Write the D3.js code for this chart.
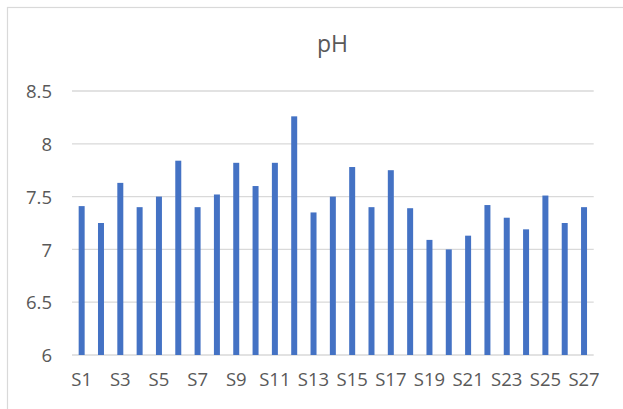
<!DOCTYPE html>
<html>
<head>
<meta charset="utf-8">
<script src="https://cdn.jsdelivr.net/npm/d3@7"></script>
<style>
  html, body { margin: 0; padding: 0; background: #fff; }
  svg { display: block; }
</style>
</head>
<body>
<div id="chart"></div>
<script>
// data
var categories = ["S1","S2","S3","S4","S5","S6","S7","S8","S9","S10","S11","S12","S13","S14",
    "S15","S16","S17","S18","S19","S20","S21","S22","S23","S24","S25","S26","S27"];
var phValues = [7.41, 7.25, 7.63, 7.40, 7.50, 7.84, 7.40, 7.52, 7.82, 7.60, 7.82, 8.26, 7.35, 7.50,
    7.78, 7.40, 7.75, 7.39, 7.09, 7.00, 7.13, 7.42, 7.30, 7.19, 7.51, 7.25, 7.40];
var yTicks = [6, 6.5, 7, 7.5, 8, 8.5];
var chartTitle = "pH";

var width = 623, height = 409;
var margin = {top: 91, right: 30, bottom: 54, left: 72};

var svg = d3.select("#chart")
    .append("svg")
    .attr("width", width)
    .attr("height", height);

// chart area border (only left/top visible in the crop)
svg.append("rect")
    .attr("x", 7.5)
    .attr("y", 7.5)
    .attr("width", width + 20)
    .attr("height", height + 20)
    .style("fill", "none")
    .style("stroke", "#d9d9d9")
    .style("stroke-width", 1.2);

var x = d3.scaleBand()
    .domain(categories)
    .range([margin.left, width - margin.right + 0.7])
    .paddingInner(0.69)
    .paddingOuter(0.345);

var y = d3.scaleLinear()
    .domain([6, 8.5])
    .range([height - margin.bottom, margin.top]);

// gridlines
svg.append("g")
    .selectAll("line")
    .data(yTicks)
    .enter()
    .append("line")
    .attr("x1", margin.left)
    .attr("x2", width - margin.right + 0.7)
    .attr("y1", function (d) { return y(d); })
    .attr("y2", function (d) { return y(d); })
    .style("stroke", "#d9d9d9")
    .style("stroke-width", 1.3);

// y labels
var yAxis = d3.axisLeft(y)
    .tickValues(yTicks)
    .tickSize(0)
    .tickPadding(20)
    .tickFormat(function (d) { return d3.format("")(d); });

var gy = svg.append("g")
    .attr("transform", "translate(" + margin.left + ",0)")
    .call(yAxis);
gy.select(".domain").remove();
gy.selectAll("text")
    .attr("dy", "0.36em")
    .attr("font-family", "'Open Sans', sans-serif")
    .attr("font-size", 18.5)
    .attr("fill", "#595959");

// bars
svg.append("g")
    .selectAll("rect")
    .data(phValues)
    .enter()
    .append("rect")
    .attr("x", function (d, i) { return x(categories[i]); })
    .attr("width", x.bandwidth())
    .attr("y", function (d) { return y(d); })
    .attr("height", function (d) { return y(6) - y(d); })
    .style("fill", "#4472c4");

// x labels, every other one
var xAxis = d3.axisBottom(x)
    .tickValues(categories.filter(function (d, i) { return i % 2 === 0; }))
    .tickSize(0)
    .tickPadding(18);

var gx = svg.append("g")
    .attr("transform", "translate(0," + y(6) + ")")
    .call(xAxis);
gx.select(".domain").remove();
gx.selectAll("text")
    .attr("dy", "0.71em")
    .attr("font-family", "'Open Sans', sans-serif")
    .attr("font-size", 18.5)
    .attr("fill", "#595959");

// title
svg.append("text")
    .attr("x", (margin.left + width - margin.right) / 2)
    .attr("y", 52)
    .style("text-anchor", "middle")
    .attr("font-family", "'Open Sans', sans-serif")
    .attr("font-size", 23)
    .attr("fill", "#595959")
    .text(chartTitle);
</script>
</body>
</html>
